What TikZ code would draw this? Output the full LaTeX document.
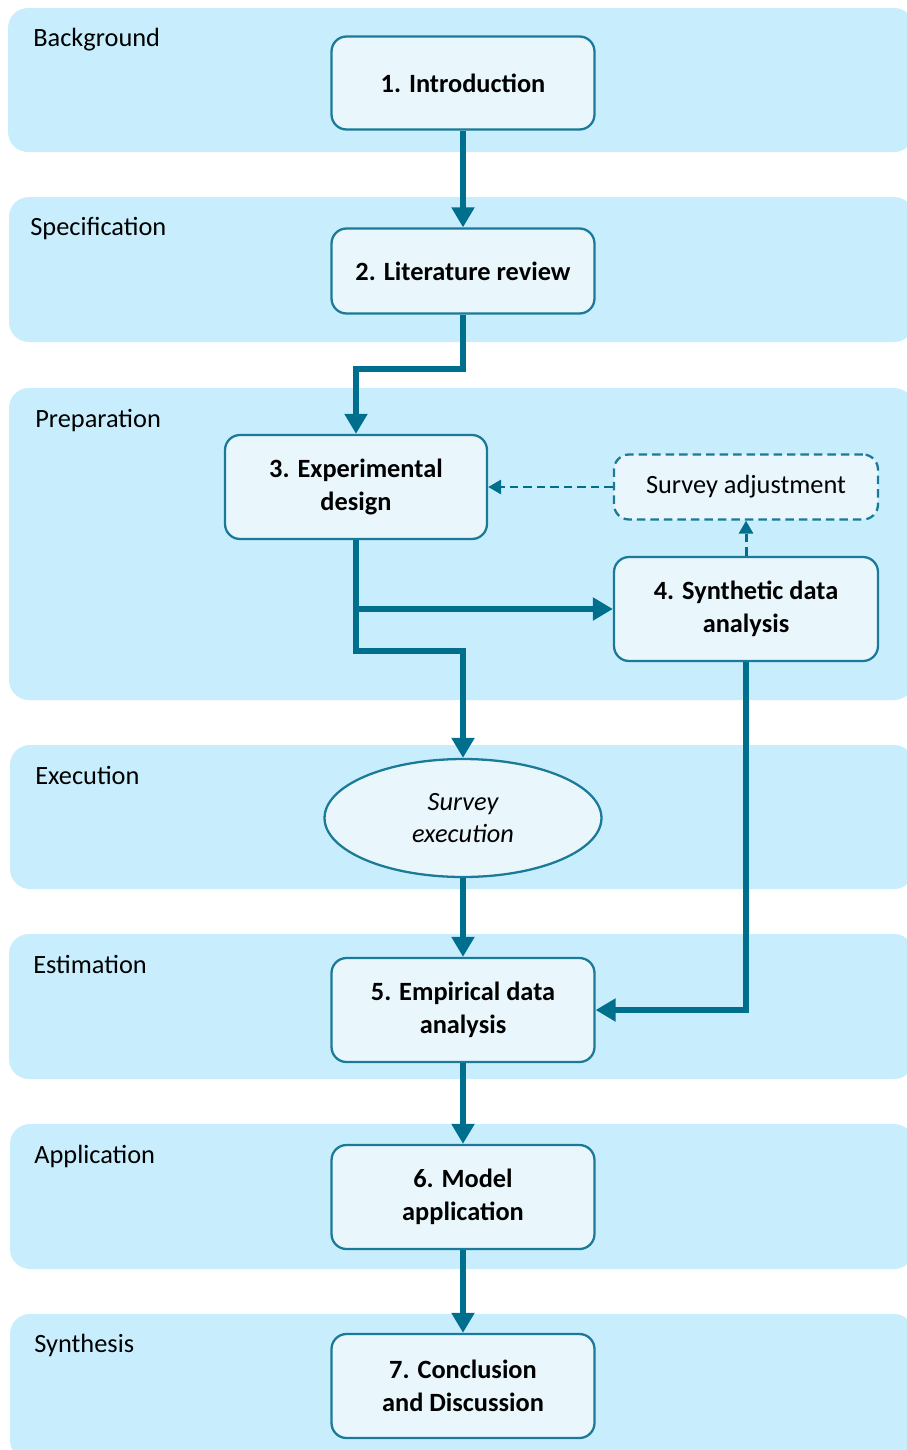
\documentclass[tikz,border=0pt]{standalone}
\usepackage{fontspec}
\setmainfont{Carlito}
\usetikzlibrary{arrows.meta,shapes.geometric}

\definecolor{bandblue}{HTML}{C8EEFD}
\definecolor{boxfill}{HTML}{E9F7FD}
\definecolor{flowteal}{HTML}{006F8E}
\definecolor{boxedge}{HTML}{1B7A98}

\tikzset{
	band/.style={fill=bandblue, rounded corners=0.4cm},
	phase/.style={anchor=base west, inner sep=0pt, font=\fontsize{15}{18}\selectfont},
	stage/.style={draw=boxedge, fill=boxfill, line width=1.3pt, rounded corners=0.3cm, inner sep=0pt, minimum width=5.26cm, minimum height=2.08cm, align=center, font=\fontsize{15}{18.5}\selectfont\bfseries},
	flow/.style={draw=flowteal, line width=3.4pt, -{Triangle[length=0.4cm,width=0.44cm]}},
	feedback/.style={draw=flowteal, line width=1.7pt, dash pattern=on 0.17cm off 0.1cm, -{Triangle[length=0.26cm,width=0.28cm]}}
}

\begin{document}
\begin{tikzpicture}[x=0.02cm, y=-0.02cm]
		\useasboundingbox (0,0) rectangle (906,1450);
		\fill[white] (0,0) rectangle (906,1450);

		% phase bands
		\fill[band] (8,8) rectangle (914,152);
		\fill[band] (9,197) rectangle (914,342);
		\fill[band] (9,388) rectangle (914,700);
		\fill[band] (10,745) rectangle (914,889);
		\fill[band] (9,934) rectangle (914,1079);
		\fill[band] (10,1124) rectangle (914,1269);
		\fill[band] (10,1314) rectangle (914,1460);

		\node[phase] (pBack) at (33,46) {Background};
		\node[phase] (pSpec) at (30,235) {Specification};
		\node[phase] (pPrep) at (35,427) {Preparation};
		\node[phase] (pExec) at (35,784) {Execution};
		\node[phase] (pEst) at (33,973) {Estimation};
		\node[phase] (pApp) at (34,1163) {Application};
		\node[phase] (pSyn) at (34,1352) {Synthesis};

		% steps
		\node[stage, minimum height=1.86cm] (intro) at (463,83) {1. Introduction};
		\node[stage, minimum height=1.7cm] (lit) at (463,271) {2. Literature review};
		\node[stage, minimum width=5.24cm] (exp) at (356,487) {3. Experimental\\design};
		\node[stage, font=\fontsize{15}{18}\selectfont, dash pattern=on 0.17cm off 0.1cm, minimum width=5.28cm, minimum height=1.3cm] (adj) at (746,487) {Survey adjustment};
		\node[stage, minimum width=5.28cm] (synth) at (746,609) {4. Synthetic data\\analysis};
		\node[stage, ellipse, rounded corners=0pt, font=\fontsize{15}{18.5}\selectfont\itshape, minimum width=5.54cm, minimum height=2.36cm] (exec) at (463,818) {Survey\\execution};
		\node[stage] (emp) at (463,1010) {5. Empirical data\\analysis};
		\node[stage] (model) at (463,1197) {6. Model\\application};
		\node[stage] (concl) at (463,1386) {7. Conclusion\\and Discussion};

		\draw[flow] (intro.south) -- (lit.north);
		\draw[flow] (lit.south) -- ++(0,54) -| (exp.north);
		\draw[flow] (exp.south) -- ++(0,111) -| (exec.north);
		\draw[flow] (exp.south |- synth.west) -- (synth.west);
		\draw[flow] (synth.south) |- (emp.east);
		\draw[flow] (exec.south) -- (emp.north);
		\draw[flow] (emp.south) -- (model.north);
		\draw[flow] (model.south) -- (concl.north);

		\draw[feedback] (synth.north) -- (adj.south);
		\draw[feedback] (adj.west) -- (exp.east);
	\end{tikzpicture}
\end{document}
